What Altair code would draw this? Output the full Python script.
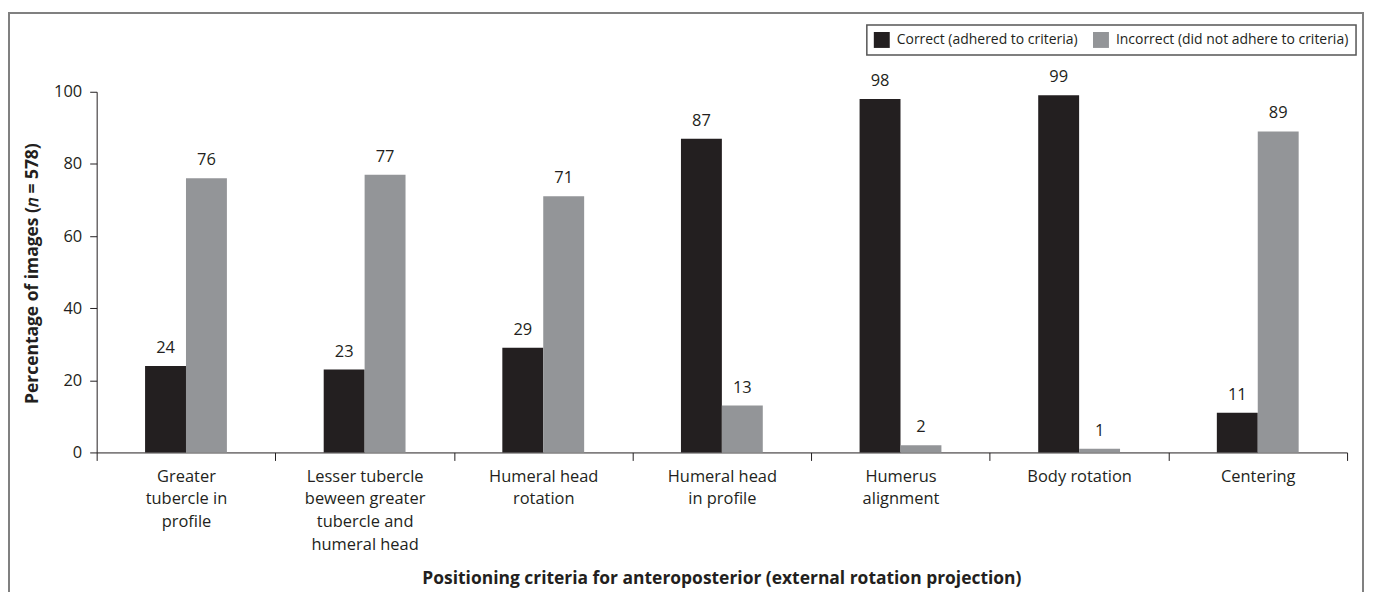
import altair as alt
import pandas as pd

categories = [
    "Greater\ntubercle in\nprofile",
    "Lesser tubercle\nbeween greater\ntubercle and\nhumeral head",
    "Humeral head\nrotation",
    "Humeral head\nin profile",
    "Humerus\nalignment",
    "Body rotation",
    "Centering",
]
correct = [24, 23, 29, 87, 98, 99, 11]
incorrect = [76, 77, 71, 13, 2, 1, 89]
series = ["Correct (adhered to criteria)", "Incorrect (did not adhere to criteria)"]
colors = ["#231f20", "#939598"]
y_ticks = [0, 20, 40, 60, 80, 100]

rows = []
for i, c in enumerate(categories):
    rows.append({"cat": c, "series": series[0], "value": correct[i]})
    rows.append({"cat": c, "series": series[1], "value": incorrect[i]})
df = pd.DataFrame(rows)

FONT = "Open Sans"
INK = "#231f20"

# offset scale: empty slots either side keep the pair of bars narrow and centred
offset_domain = ["_l"] + series + ["_r"]

x_enc = alt.X(
    "cat:N",
    sort=categories,
    scale=alt.Scale(paddingInner=0, paddingOuter=0),
    axis=alt.Axis(
        title="Positioning criteria for anteroposterior (external rotation projection)",
        labelExpr="split(datum.label, '\\n')",
        labelAngle=0,
        labelFont=FONT,
        labelFontSize=16.5,
        labelColor=INK,
        labelLineHeight=22.7,
        labelPadding=8,
        labelBaseline="top",
        tickBand="extent",
        tickSize=8,
        tickColor=INK,
        domainColor=INK,
        titleFont=FONT,
        titleFontSize=17.5,
        titleFontWeight="bold",
        titleColor=INK,
        titleX=627,
        titleY=132,
        titleAlign="center",
        titleBaseline="alphabetic",
        titleAnchor="middle",
    ),
)
xoff_enc = alt.XOffset(
    "series:N",
    scale=alt.Scale(domain=offset_domain, paddingOuter=0.183, paddingInner=0),
)
y_enc = alt.Y(
    "value:Q",
    scale=alt.Scale(domain=[0, 100], nice=False),
    axis=alt.Axis(
        title="Percentage of images (𝑛 = 578)",
        values=y_ticks,
        grid=False,
        labelFont=FONT,
        labelFontSize=16.5,
        labelColor=INK,
        labelPadding=8,
        tickSize=7,
        tickColor=INK,
        domainColor=INK,
        titleFont=FONT,
        titleFontSize=17.5,
        titleFontWeight="bold",
        titleColor=INK,
        titleX=-64,
        titleY=182,
        titleAlign="center",
        titleBaseline="middle",
        titleAngle=270,
    ),
)

bars = alt.Chart(df).mark_bar().encode(
    x=x_enc,
    xOffset=xoff_enc,
    y=y_enc,
    color=alt.Color(
        "series:N",
        sort=series,
        scale=alt.Scale(domain=series, range=colors),
        legend=alt.Legend(
            title=None,
            orient="none",
            legendX=773,
            legendY=-67,
            direction="horizontal",
            symbolType="square",
            symbolSize=256,
            symbolStrokeWidth=0,
            symbolOpacity=1,
            labelFont=FONT,
            labelFontSize=14,
            labelColor=INK,
            labelOffset=7,
            columnPadding=15,
            padding=7,
            strokeColor="#555555",
            labelLimit=400,
        ),
    ),
)

labels = alt.Chart(df).mark_text(
    baseline="alphabetic", dy=-13, font=FONT, fontSize=16.5, color=INK
).encode(
    x=alt.X("cat:N", sort=categories),
    xOffset=alt.XOffset("series:N"),
    y="value:Q",
    text="value:Q",
)

frame = alt.Chart(pd.DataFrame({"f": [0]})).mark_rect(
    fill=None, stroke="#808080", strokeWidth=2
).encode(
    x=alt.value(-88),
    x2=alt.value(1271),
    y=alt.value(-79),
    y2=alt.value(520),
)

chart = (
    alt.layer(frame, bars, labels)
    .properties(
        width=1255,
        height=362,
        autosize=alt.AutoSizeParams(type="none"),
        padding={"left": 89, "top": 83, "right": 18, "bottom": 139},
    )
    .configure_view(stroke=None)
    .configure_legend(strokeWidth=1.5)
)

chart.save("out.html", embed_options={"renderer": "svg", "actions": False})
